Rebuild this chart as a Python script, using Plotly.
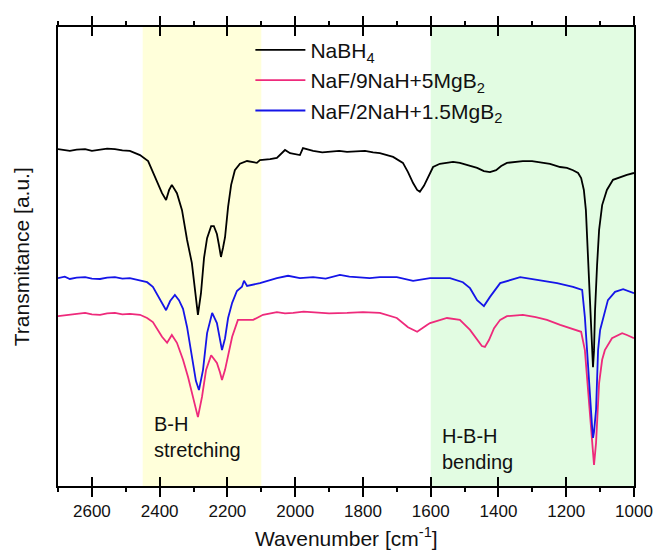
import plotly.graph_objects as go

# FTIR spectra: wavenumber [cm^-1] and transmittance [a.u.]
nabh4_wn = [2700, 2680, 2665, 2645, 2620, 2600, 2576, 2555, 2532, 2510, 2488, 2458, 2434, 2420,
            2405, 2393, 2381, 2372, 2364, 2349, 2334, 2319, 2305, 2296, 2287, 2278, 2269, 2260,
            2248, 2240, 2231, 2225, 2219, 2213, 2207, 2198, 2189, 2178, 2163, 2142, 2113, 2104,
            2074, 2054, 2030, 2015, 1986, 1977, 1947, 1920, 1897, 1870, 1847, 1820, 1794, 1770,
            1750, 1711, 1682, 1667, 1652, 1640, 1632, 1620, 1611, 1593, 1573, 1552, 1534, 1514,
            1484, 1463, 1443, 1425, 1407, 1392, 1375, 1351, 1328, 1301, 1277, 1248, 1218, 1198,
            1180, 1165, 1156, 1148, 1142, 1136, 1130, 1124, 1121, 1118, 1115, 1109, 1103, 1094,
            1080, 1062, 1041, 1021, 1000]
nabh4_t = [73.4, 73.1, 73.0, 73.3, 73.4, 73.0, 73.2, 73.5, 73.4, 73.1, 73.0, 72.1, 70.8, 68.4,
           65.6, 63.8, 62.3, 64.5, 65.6, 63.8, 60.1, 53.6, 48.6, 42.7, 37.3, 42.0, 49.7, 54.0,
           56.6, 56.6, 54.9, 52.5, 49.9, 51.9, 54.2, 60.8, 65.6, 68.8, 70.2, 70.8, 70.4, 71.0,
           71.2, 71.5, 73.2, 72.5, 72.1, 73.6, 73.0, 72.7, 72.8, 73.0, 72.8, 72.9, 73.0, 72.7,
           72.5, 71.7, 70.4, 68.4, 66.0, 64.5, 64.1, 65.4, 66.7, 69.5, 70.2, 70.4, 70.6, 70.4,
           69.7, 69.3, 68.6, 68.4, 68.8, 69.7, 70.4, 70.6, 70.8, 70.8, 70.6, 70.2, 69.5, 69.3,
           68.8, 68.2, 67.1, 64.5, 60.1, 51.4, 40.5, 30.7, 25.9, 29.6, 38.3, 48.1, 55.8, 61.2,
           64.5, 66.7, 67.3, 67.8, 68.2]

naf9_wn = [2700, 2680, 2665, 2645, 2620, 2600, 2576, 2555, 2532, 2510, 2488, 2458, 2437, 2420,
           2405, 2393, 2378, 2364, 2349, 2331, 2316, 2302, 2293, 2287, 2275, 2263, 2248, 2231,
           2222, 2216, 2207, 2201, 2186, 2169, 2148, 2124, 2095, 2054, 2030, 2006, 1975, 1947,
           1900, 1847, 1800, 1750, 1700, 1667, 1640, 1611, 1602, 1552, 1514, 1484, 1466, 1449,
           1440, 1428, 1413, 1395, 1375, 1328, 1290, 1257, 1218, 1180, 1156, 1145, 1136, 1130,
           1124, 1118, 1112, 1103, 1094, 1086, 1065, 1035, 1021, 1000]
naf9_t = [37.0, 37.2, 37.3, 37.5, 37.7, 37.4, 37.3, 37.6, 37.7, 37.4, 37.5, 37.3, 36.6, 35.7,
          34.0, 32.5, 31.2, 32.9, 31.2, 27.5, 23.7, 19.4, 16.6, 15.0, 19.4, 25.3, 28.5, 26.8,
          24.8, 23.1, 25.3, 27.5, 32.5, 36.2, 36.2, 36.2, 37.3, 37.9, 37.6, 37.7, 38.0, 37.9,
          37.6, 37.7, 37.9, 37.7, 36.6, 34.6, 33.6, 35.1, 35.5, 36.6, 36.2, 34.0, 32.2, 30.5,
          30.3, 31.8, 34.4, 36.2, 37.0, 37.3, 36.8, 36.2, 35.1, 34.2, 33.6, 29.6, 20.9, 14.4,
          9.4, 4.6, 9.4, 22.4, 27.5, 29.6, 32.2, 33.3, 32.9, 32.2]

naf2_wn = [2700, 2680, 2665, 2645, 2620, 2600, 2576, 2555, 2532, 2510, 2488, 2458, 2437, 2420,
           2405, 2393, 2381, 2369, 2355, 2343, 2331, 2319, 2305, 2293, 2284, 2272, 2260, 2245,
           2231, 2222, 2216, 2207, 2198, 2186, 2172, 2157, 2151, 2142, 2104, 2054, 2021, 1986,
           1947, 1910, 1868, 1840, 1809, 1780, 1750, 1700, 1652, 1602, 1543, 1505, 1484, 1463,
           1443, 1425, 1395, 1336, 1286, 1227, 1180, 1153, 1145, 1136, 1130, 1124, 1121, 1118,
           1112, 1106, 1100, 1091, 1077, 1056, 1032, 1000]
naf2_t = [45.3, 45.6, 45.1, 45.4, 45.5, 45.2, 45.1, 45.4, 45.5, 45.2, 45.3, 44.7, 44.4, 43.4,
          41.4, 39.9, 38.3, 40.3, 41.6, 40.5, 38.6, 34.6, 28.1, 22.9, 20.9, 25.3, 33.3, 37.7,
          35.5, 31.8, 29.6, 32.2, 36.6, 39.9, 42.5, 43.4, 44.7, 43.6, 44.2, 45.3, 45.8, 45.3,
          45.5, 45.2, 46.0, 45.6, 45.5, 45.3, 45.5, 45.5, 44.7, 45.3, 45.3, 44.4, 43.1, 40.5,
          39.2, 41.2, 44.2, 45.5, 44.9, 44.2, 43.4, 42.7, 36.8, 25.9, 18.7, 13.3, 10.5, 11.8,
          16.6, 29.6, 34.0, 36.8, 40.5, 42.3, 42.9, 42.0]

# Shaded vibration regions [cm^-1]
bh_stretch = [2450, 2100]
hbh_bend = [1600, 1000]

series = [
    ("NaBH<sub>4</sub>", nabh4_wn, nabh4_t, "#000000"),
    ("NaF/9NaH+5MgB<sub>2</sub>", naf9_wn, naf9_t, "#EE2A7B"),
    ("NaF/2NaH+1.5MgB<sub>2</sub>", naf2_wn, naf2_t, "#1515E8"),
]

FONT = "Liberation Sans, Arial, sans-serif"

fig = go.Figure()
for i, (name, wn, t, col) in enumerate(series):
    fig.add_trace(go.Scatter(x=wn, y=t, mode="lines", name=name,
                             legendgroup=str(i),
                             line=dict(color=col, width=1.8)))

# invisible traces that carry the extra tick axes (inward bottom, top outward, top inward)
for ax in ("x2", "x3", "x4"):
    fig.add_trace(go.Scatter(x=[nabh4_wn[0]], y=[nabh4_t[0]], xaxis=ax, mode="lines",
                             showlegend=False, hoverinfo="skip", line=dict(width=0)))

fig.add_shape(type="rect", xref="x", yref="paper", x0=bh_stretch[0], x1=bh_stretch[1],
              y0=0, y1=1, fillcolor="#FFFFDA", line_width=0, layer="below")
fig.add_shape(type="rect", xref="x", yref="paper", x0=hbh_bend[0], x1=hbh_bend[1],
              y0=0, y1=1, fillcolor="#E2FCE2", line_width=0, layer="below")

fig.add_annotation(x=2423, y=0.107, xref="x", yref="paper", text="B-H<br>stretching",
                   showarrow=False, xanchor="left", yanchor="middle", align="left",
                   font=dict(family=FONT, size=20, color="#111"))
fig.add_annotation(x=1573, y=0.080, xref="x", yref="paper", text="H-B-H<br>bending",
                   showarrow=False, xanchor="left", yanchor="middle", align="left",
                   font=dict(family=FONT, size=20, color="#111"))

fig.add_annotation(x=-0.063, y=0.5, xref="paper", yref="paper", text="Transmitance [a.u.]",
                   textangle=-90, showarrow=False, xanchor="center", yanchor="middle",
                   font=dict(family=FONT, size=21, color="#111"))
fig.add_annotation(x=0.5, y=-0.144, xref="paper", yref="paper",
                   text="Wavenumber [cm<sup>-1</sup>]",
                   showarrow=False, xanchor="center", yanchor="bottom",
                   font=dict(family=FONT, size=21, color="#111"))

axis_common = dict(range=[2700, 1000], showgrid=False, zeroline=False,
                   linecolor="#000", linewidth=1.5, automargin=False,
                   dtick=200, tick0=1000, ticklen=9, tickwidth=1.5, tickcolor="#000")
minor_out = dict(dtick=100, tick0=1000, ticks="outside", ticklen=4,
                 tickwidth=1.5, tickcolor="#000")

fig.update_layout(
    width=655, height=554,
    margin=dict(l=58, r=21, t=27, b=68, autoexpand=False),
    paper_bgcolor="white", plot_bgcolor="white",
    font=dict(family=FONT, color="#111"),
    showlegend=True,
    legend=dict(x=0.334, y=0.994, xanchor="left", yanchor="top",
                bgcolor="rgba(0,0,0,0)", borderwidth=0,
                font=dict(family=FONT, size=21, color="#111"),
                itemwidth=50, tracegroupgap=0, traceorder="grouped"),
    xaxis=dict(**axis_common, side="bottom", showline=True, ticks="outside",
               minor=minor_out, tickfont=dict(family=FONT, size=17, color="#111")),
    xaxis2=dict(**axis_common, side="bottom", overlaying="x", showline=False,
                ticks="inside", showticklabels=False),
    xaxis3=dict(**axis_common, side="top", overlaying="x", showline=True,
                ticks="outside", minor=minor_out, showticklabels=False),
    xaxis4=dict(**axis_common, side="top", overlaying="x", showline=False,
                ticks="inside", showticklabels=False),
    yaxis=dict(range=[0, 100], showgrid=False, zeroline=False, showline=True,
               mirror=True, linecolor="#000", linewidth=1.5, ticks="",
               showticklabels=False, automargin=False),
)

fig.write_html("out.html")
